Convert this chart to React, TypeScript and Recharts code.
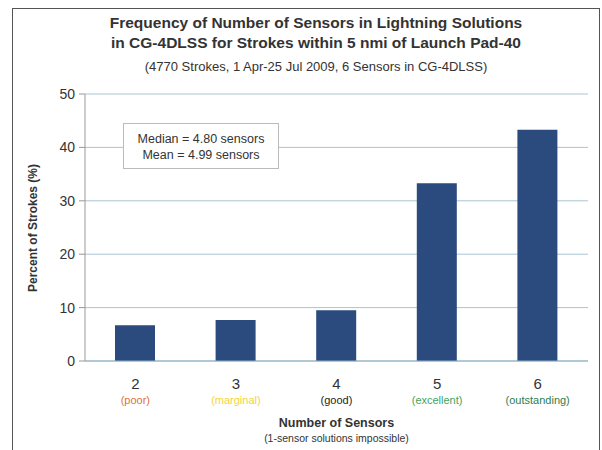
import React from "react";
import { BarChart, Bar, XAxis, YAxis, CartesianGrid } from "recharts";

// sensor counts on the x axis, with their quality words below
const sensors = ["2", "3", "4", "5", "6"];
const quality = ["(poor)", "(marginal)", "(good)", "(excellent)", "(outstanding)"];
const qualityColors = ["#e0703a", "#f2d43c", "#222222", "#3fa35f", "#2e7d4f"];
const percent = [6.7, 7.7, 9.5, 33.3, 43.3];
const yTicks = [0, 10, 20, 30, 40, 50];

const data = sensors.map((s, i) => ({ sensors: s, percent: percent[i], idx: i }));

const font = "Arial, 'Liberation Sans', sans-serif";

function SensorTick(props: any) {
    const { x, y, payload, index } = props;
    return (
        <g>
            <text x={x} y={y + 20} textAnchor="middle" fontSize={15} fill="#333" fontFamily={font}>
                {payload.value}
            </text>
            <text x={x} y={y + 35} textAnchor="middle" fontSize={11} fill={qualityColors[index]} fontFamily={font}>
                {quality[index]}
            </text>
        </g>
    );
}

export default function App() {
    return (
        <div style={{ position: "fixed", left: 0, top: 0, width: 602, height: 450, background: "#fff", fontFamily: font }}>
            <div style={{ position: "absolute", left: 12, top: 8, width: 586, height: 445, border: "1px solid #555", borderBottom: "none" }} />
            <div style={{ position: "absolute", left: 0, top: 13, width: 602, paddingLeft: 30, boxSizing: "border-box", textAlign: "center", fontSize: 15.5, fontWeight: "bold", color: "#333", lineHeight: "20px" }}>
                Frequency of Number of Sensors in Lightning Solutions
                <br />
                in CG-4DLSS for Strokes within 5 nmi of Launch Pad-40
            </div>
            <div style={{ position: "absolute", left: 0, top: 59, width: 602, paddingLeft: 30, boxSizing: "border-box", textAlign: "center", fontSize: 13, color: "#333" }}>
                (4770 Strokes, 1 Apr-25 Jul 2009, 6 Sensors in CG-4DLSS)
            </div>
            <BarChart
                width={602}
                height={450}
                data={data}
                margin={{ top: 94, right: 14, left: 45, bottom: 29 }}
                barSize={40}
            >
                <CartesianGrid vertical={false} stroke="#a9c4d4" />
                <YAxis
                    domain={[0, 50]}
                    ticks={yTicks}
                    width={40}
                    tick={{ fontSize: 14, fill: "#333", fontFamily: font }}
                    tickMargin={4}
                    axisLine={{ stroke: "#999" }}
                    tickLine={{ stroke: "#999" }}
                />
                <XAxis
                    dataKey="sensors"
                    height={60}
                    interval={0}
                    tick={<SensorTick />}
                    axisLine={{ stroke: "#8fb0c4" }}
                    tickLine={false}
                />
                <Bar dataKey="percent" fill="#2b4a7d" isAnimationActive={false} />
            </BarChart>
            <div style={{ position: "absolute", left: 13, top: 228, width: 40, height: 0 }}>
                <div style={{ position: "absolute", left: 20, top: 0, transform: "translate(-50%, -50%) rotate(-90deg)", whiteSpace: "nowrap", fontSize: 12, fontWeight: "bold", color: "#333" }}>
                    Percent of Strokes (%)
                </div>
            </div>
            <div style={{ position: "absolute", left: 123, top: 123, width: 156, height: 46, border: "1px solid #bbb", background: "#fff", boxSizing: "border-box", textAlign: "center", fontSize: 12.5, color: "#333", lineHeight: "16px", paddingTop: 7 }}>
                Median = 4.80 sensors
                <br />
                Mean = 4.99 sensors
            </div>
            <div style={{ position: "absolute", left: 85, top: 416, width: 503, textAlign: "center", fontSize: 12.5, fontWeight: "bold", color: "#333" }}>
                Number of Sensors
            </div>
            <div style={{ position: "absolute", left: 85, top: 432, width: 503, textAlign: "center", fontSize: 10.5, color: "#333" }}>
                (1-sensor solutions impossible)
            </div>
        </div>
    );
}
